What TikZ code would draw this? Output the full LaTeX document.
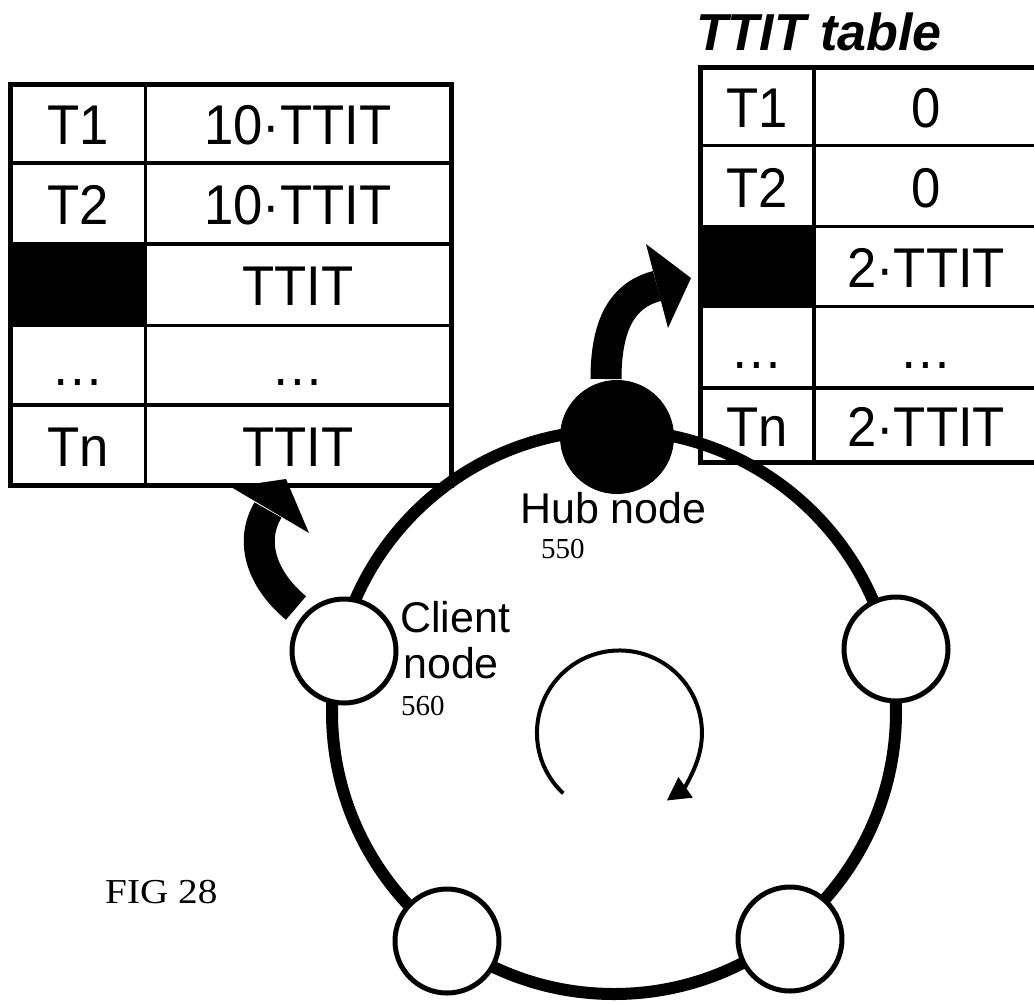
\documentclass[tikz,border=0pt]{standalone}
\usepackage{fontspec}
\setmainfont{Liberation Sans}
\newfontfamily\seriffam{Liberation Serif}
\usetikzlibrary{arrows.meta}
\begin{document}
\begin{tikzpicture}[x=1pt,y=-1pt,
  cell/.style={inner sep=0pt, anchor=base, xscale=0.94, font=\fontsize{56}{60}\selectfont},
  lbl/.style={inner sep=0pt, anchor=base west, font=\fontsize{43}{48}\selectfont},
  num/.style={inner sep=0pt, anchor=base west, font=\seriffam\fontsize{29}{32}\selectfont},
  outerline/.style={line width=5pt},
  innerline/.style={line width=3.3pt},
  client/.style={circle, draw, line width=5pt, fill=white, minimum size=104pt, inner sep=0pt},
  hub/.style={circle, fill=black, minimum size=114pt, inner sep=0pt},
  ring/.style={line width=12pt},
  bigarrow/.style={line width=31pt},
]
\useasboundingbox (0,0) rectangle (1034,1005);
\clip (0,0) rectangle (1034,1005);

% ---------- left table ----------
\fill[white] (10.8,84) rectangle (451,485.5);
\fill[black] (10.8,244) rectangle (145.5,325.5);
\draw[innerline] (10.8,163) -- (451,163);
\draw[innerline] (10.8,244) -- (451,244);
\draw[innerline] (10.8,325.5) -- (451,325.5);
\draw[innerline] (10.8,405) -- (451,405);
\draw[innerline] (145.5,84) -- (145.5,485.5);
\draw[outerline] (10.8,84) rectangle (451,485.5);

\node[cell] (la1) at (78,144.5) {T1};
\node[cell] (lb1) at (298,144.5) {10·TTIT};
\node[cell] (la2) at (78,224.5) {T2};
\node[cell] (lb2) at (298,224.5) {10·TTIT};
\node[cell] (lb3) at (298,305.5) {TTIT};
\node[cell] (la4) at (78,385.5) {…};
\node[cell] (lb4) at (298,385.5) {…};
\node[cell] (la5) at (78,466) {Tn};
\node[cell] (lb5) at (298,466) {TTIT};

% ---------- right table ----------
\node[inner sep=0pt, anchor=base west, font=\bfseries\itshape\fontsize{52}{60}\selectfont] (title) at (696,50) {TTIT table};
\fill[white] (700,67.5) rectangle (1039,462.5);
\fill[black] (700,226.7) rectangle (814,306.7);
\draw[innerline] (700,145.7) -- (1039,145.7);
\draw[innerline] (700,226.7) -- (1039,226.7);
\draw[innerline] (700,306.7) -- (1039,306.7);
\draw[innerline] (700,388) -- (1039,388);
\draw[innerline] (814,67.5) -- (814,462.5);
\draw[outerline] (700,67.5) rectangle (1039,462.5);

\node[cell] (ra1) at (757,127.5) {T1};
\node[cell] (rb1) at (926,127.5) {0};
\node[cell] (ra2) at (757,207) {T2};
\node[cell] (rb2) at (926,207) {0};
\node[cell] (rb3) at (926,287.5) {2·TTIT};
\node[cell] (ra4) at (757,368) {…};
\node[cell] (rb4) at (926,368) {…};
\node[cell] (ra5) at (757,446) {Tn};
\node[cell] (rb5) at (926,446) {2·TTIT};

% ---------- ring ----------
\coordinate (rc) at (614,712);
\draw[ring] (rc) circle[radius=282];

% ---------- curved block arrows ----------
\coordinate (l0) at (296,608);
\coordinate (l1) at (268,510);
\coordinate (ltip) at (286,479);
\draw[bigarrow] (l0) .. controls (260,578) and (250,540) .. (l1);
\fill (231,487) -- (309,533) -- (ltip) -- cycle;

\coordinate (r0) at (606,379);
\coordinate (r1) at (657,286);
\coordinate (rtip) at (691,278);
\draw[bigarrow] (r0) .. controls (606,325) and (622,295) .. (r1);
\fill (646,244) -- (668,328) -- (rtip) -- cycle;

% ---------- nodes on ring ----------
\node[hub] (hubn) at (617,437) {};
\node[client] (cl) at (344,651) {};
\node[client] (cr) at (896,649) {};
\node[client] (cbl) at (447,941) {};
\node[client] (cbr) at (790,939) {};

% ---------- labels ----------
\node[lbl] (hublbl) at (520,523) {Hub node};
\node[num] (hubnum) at (541,558) {550};
\node[lbl] (cl1) at (400,632) {Client};
\node[lbl] (cl2) at (403,678) {node};
\node[num] (clnum) at (401,715) {560};

% ---------- rotation arrow ----------
\coordinate (rotc) at (619.5,733);
\coordinate (rots) at (563.2,793.3);
\draw[line width=4pt, -{Triangle[length=23pt,width=24pt]}] (rots) arc[start angle=133, end angle=415, radius=82.5];

% ---------- figure label ----------
\node[inner sep=0pt, anchor=base west, xscale=1.12, font=\seriffam\fontsize{35}{40}\selectfont] (fig) at (105,903) {FIG 28};
\end{tikzpicture}
\end{document}
